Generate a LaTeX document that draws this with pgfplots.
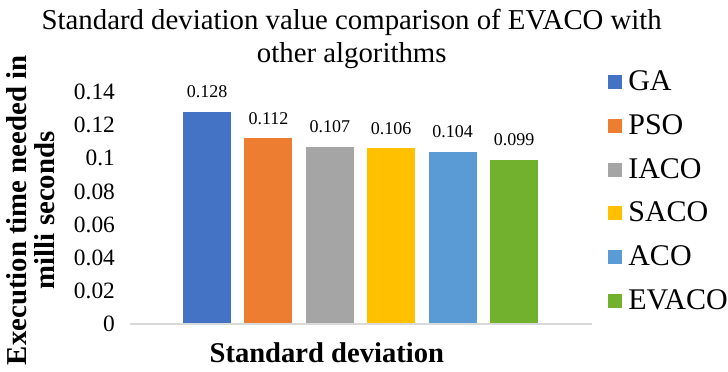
\documentclass[border=0pt]{standalone}
\usepackage{pgfplots}
\pgfplotsset{compat=1.18}
\usepackage{fontspec}
\setmainfont{Liberation Serif}
\definecolor{cGA}{HTML}{4472C4}
\definecolor{cPSO}{HTML}{ED7D31}
\definecolor{cIACO}{HTML}{A5A5A5}
\definecolor{cSACO}{HTML}{FFC000}
\definecolor{cACO}{HTML}{5B9BD5}
\definecolor{cEVACO}{HTML}{72B12E}
\begin{document}
\begin{tikzpicture}
\begin{axis}[
  at={(0,0)}, anchor=south west,
  scale only axis,
  width=231pt, height=116pt,
  xmin=-1.255, xmax=6.27,
  ymin=0, ymax=0.14,
  ytick={0,0.02,...,0.14},
  yticklabels={0,0.02,0.04,0.06,0.08,0.1,0.12,0.14},
  xtick=\empty,
  axis line style={draw=none},
  axis x line*=bottom,
  axis y line*=left,
  major tick length=0pt,
  yticklabel style={font=\fontsize{11.7}{12}\selectfont, xshift=-4pt},
  /pgf/number format/assume math mode=true,
  ybar, bar width=24pt,
  bar shift=0pt,
  nodes near coords,
  nodes near coords style={font=\fontsize{9}{10}\selectfont, anchor=center, yshift=10pt, text=black},
  point meta=explicit symbolic,
  title={Standard deviation value comparison of EVACO with\\other algorithms},
  title style={at={(rel axis cs:0.48,1)}, anchor=center, yshift=20.75pt, align=center, font=\fontsize{14.4}{16.5}\selectfont},
  xlabel={Standard deviation},
  xlabel style={at={(rel axis cs:0.426,0)}, anchor=center, yshift=-14.5pt, font=\bfseries\fontsize{14.3}{16}\selectfont},
  ylabel={Execution time needed in\\milli seconds},
  ylabel style={at={(rel axis cs:0,0.49)}, anchor=center, yshift=49.5pt, align=center, font=\bfseries\fontsize{14.4}{14}\selectfont},
  legend style={draw=none, fill=none, at={(rel axis cs:1.0215,1.127)}, anchor=north west,
    font=\fontsize{15}{15}\selectfont, row sep=6.4pt, legend cell align=left,
    /tikz/every even column/.append style={column sep=0pt}},
]
\addplot[fill=cGA, draw=none, legend image code/.code={\fill[cGA] (0pt,-3.5pt) rectangle (7pt,3.5pt); \path (8pt,0pt);}] coordinates {(0,0.128)[0.128]};
\addplot[fill=cPSO, draw=none, legend image code/.code={\fill[cPSO] (0pt,-3.5pt) rectangle (7pt,3.5pt); \path (8pt,0pt);}] coordinates {(1,0.112)[0.112]};
\addplot[fill=cIACO, draw=none, legend image code/.code={\fill[cIACO] (0pt,-3.5pt) rectangle (7pt,3.5pt); \path (8pt,0pt);}] coordinates {(2,0.107)[0.107]};
\addplot[fill=cSACO, draw=none, legend image code/.code={\fill[cSACO] (0pt,-3.5pt) rectangle (7pt,3.5pt); \path (8pt,0pt);}] coordinates {(3,0.106)[0.106]};
\addplot[fill=cACO, draw=none, legend image code/.code={\fill[cACO] (0pt,-3.5pt) rectangle (7pt,3.5pt); \path (8pt,0pt);}] coordinates {(4,0.104)[0.104]};
\addplot[fill=cEVACO, draw=none, legend image code/.code={\fill[cEVACO] (0pt,-3.5pt) rectangle (7pt,3.5pt); \path (8pt,0pt);}] coordinates {(5,0.099)[0.099]};
\legend{GA,PSO,IACO,SACO,ACO,EVACO}
\draw[color=black!15, line width=0.6pt] (rel axis cs:0,0) -- (rel axis cs:1,0);
\end{axis}
\pgfresetboundingbox
\path (-65pt,-23.5pt) rectangle (299pt,162pt);
\end{tikzpicture}
\end{document}
